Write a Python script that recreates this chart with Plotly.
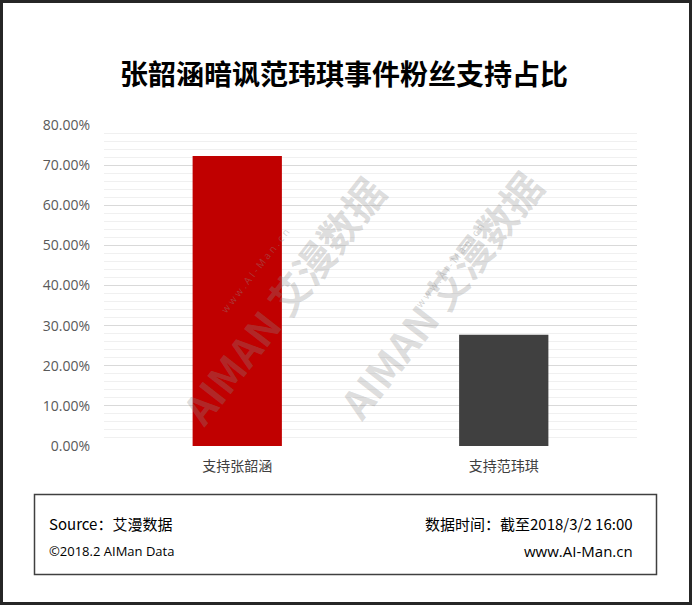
import plotly.graph_objects as go

categories = ["支持张韶涵", "支持范玮琪"]
values = [0.723, 0.277]
bar_colors = ["#C00000", "#404040"]
title_text = "张韶涵暗讽范玮琪事件粉丝支持占比"
tick_vals = [0, 0.1, 0.2, 0.3, 0.4, 0.5, 0.6, 0.7, 0.8]
tick_text = ["0.00%", "10.00%", "20.00%", "30.00%", "40.00%", "50.00%", "60.00%", "70.00%", "80.00%"]

W, H = 692, 605
L, R, T, B = 104, 55, 125, 159
PW, PH = W - L - R, H - T - B

def px(x):
    return (x - L) / PW

def py(y):
    return (H - B - y) / PH

FONT = "Open Sans, Noto Sans CJK SC, sans-serif"
CJK = "Noto Sans CJK SC, sans-serif"

fig = go.Figure()
fig.add_trace(go.Bar(x=categories, y=values, marker=dict(color=bar_colors, line=dict(width=0)),
                     width=0.335, hoverinfo="skip"))

fig.update_layout(
    width=W, height=H,
    margin=dict(l=L, r=R, t=T, b=B),
    paper_bgcolor="white", plot_bgcolor="white",
    showlegend=False,
    xaxis=dict(showgrid=False, showline=False, ticks="", zeroline=False, ticklabelstandoff=10,
               tickfont=dict(family=CJK, size=14, color="#404040")),
    yaxis=dict(range=[0, 0.8], tickvals=tick_vals, ticktext=tick_text, showgrid=True,
               gridcolor="#D9D9D9", gridwidth=1, zeroline=False, showline=False,
               tickfont=dict(family=FONT, size=14, color="#595959"), ticklabelstandoff=13,
               minor=dict(dtick=0.02, showgrid=True, gridcolor="#F0F0F0", gridwidth=1)),
)

shapes = [
    dict(type="rect", xref="paper", yref="paper", x0=px(1.5), x1=px(W - 1.5), y0=py(1.5), y1=py(H - 1.5),
         line=dict(color="#262626", width=3), layer="above"),
    dict(type="rect", xref="paper", yref="paper", x0=px(34.5), x1=px(656.5), y0=py(494.5), y1=py(574.5),
         line=dict(color="#404040", width=1.5)),
]
fig.update_layout(shapes=shapes)

ann = [
    dict(text="<b>" + title_text + "</b>", x=px(344), y=py(73), xref="paper", yref="paper",
         showarrow=False, font=dict(family=CJK, size=28, color="#000000"), xanchor="center", yanchor="middle"),
    dict(text="Source：艾漫数据", x=px(47), y=py(523), xref="paper", yref="paper", showarrow=False,
         font=dict(family=CJK, size=15, color="#000000"), xanchor="left", yanchor="middle"),
    dict(text="©2018.2 AIMan Data", x=px(47), y=py(551), xref="paper", yref="paper", showarrow=False,
         font=dict(family=FONT, size=13, color="#000000"), xanchor="left", yanchor="middle"),
    dict(text="数据时间：截至2018/3/2 16:00", x=px(635), y=py(523), xref="paper", yref="paper", showarrow=False,
         font=dict(family=CJK, size=15, color="#000000"), xanchor="right", yanchor="middle"),
    dict(text="www.AI-Man.cn", x=px(635), y=py(551), xref="paper", yref="paper", showarrow=False,
         font=dict(family=FONT, size=15, color="#000000"), xanchor="right", yanchor="middle"),
]
for cx, cy in [(165, 300), (440, 295)]:
    ann.append(dict(text="<b>AIMAN 艾漫数据</b>", x=px(cx), y=py(cy), xref="paper", yref="paper",
                    showarrow=False, textangle=-52,
                    font=dict(family=CJK, size=40, color="rgba(140,140,140,0.3)")))
    ann.append(dict(text="w w w . A I - M a n . c n", x=px(cx + 50), y=py(cy - 30), xref="paper", yref="paper",
                    showarrow=False, textangle=-52,
                    font=dict(family=FONT, size=10, color="rgba(140,140,140,0.4)")))
fig.update_layout(annotations=ann)

fig.write_html("out.html", config={"displayModeBar": False},
               post_script="document.body.style.margin='0';document.body.style.padding='0';")
